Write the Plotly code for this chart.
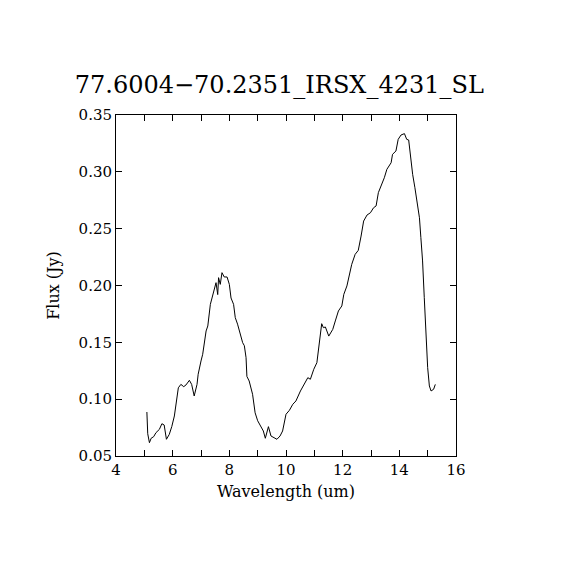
import plotly.graph_objects as go

# spectrum
wavelength = [5.09, 5.12, 5.18, 5.24, 5.33, 5.41, 5.53, 5.62, 5.70, 5.78, 5.88, 5.97, 6.06,
              6.13, 6.20, 6.29, 6.39, 6.47, 6.59, 6.67, 6.76, 6.86, 6.90, 7.00, 7.06,
              7.18, 7.24, 7.33, 7.39, 7.47, 7.53, 7.59, 7.62, 7.68, 7.74, 7.82, 7.92,
              8.00, 8.06, 8.15, 8.21, 8.29, 8.39, 8.47, 8.53, 8.59, 8.62, 8.70, 8.82,
              8.91, 9.00, 9.12, 9.20, 9.27, 9.38, 9.47, 9.59, 9.68, 9.79, 9.88, 10.00,
              10.12, 10.24, 10.35, 10.51, 10.65, 10.77, 10.86, 10.98, 11.09, 11.14,
              11.21, 11.26, 11.32, 11.39, 11.51, 11.65, 11.74, 11.85, 11.97, 12.04,
              12.15, 12.24, 12.32, 12.44, 12.55, 12.65, 12.74, 12.86, 12.98, 13.09,
              13.18, 13.26, 13.38, 13.47, 13.56, 13.71, 13.76, 13.88, 13.96, 14.06,
              14.18, 14.26, 14.33, 14.41, 14.47, 14.55, 14.62, 14.71, 14.76, 14.82,
              14.88, 14.94, 15.00, 15.06, 15.12, 15.21, 15.27]
flux = [0.0887, 0.0696, 0.0617, 0.0656, 0.0670, 0.0705, 0.0734, 0.0784, 0.0773, 0.0647,
        0.0690, 0.0760, 0.0852, 0.1000, 0.1100, 0.1130, 0.1110, 0.1125, 0.1166, 0.1130,
        0.1028, 0.1130, 0.1219, 0.1336, 0.1395, 0.1600, 0.1644, 0.1834, 0.1890, 0.1950,
        0.2025, 0.1920, 0.2069, 0.2010, 0.2113, 0.2075, 0.2075, 0.2010, 0.1890, 0.1834,
        0.1717, 0.1660, 0.1570, 0.1497, 0.1470, 0.1365, 0.1200, 0.1160, 0.1043, 0.0880,
        0.0810, 0.0750, 0.0720, 0.0656, 0.0758, 0.0676, 0.0662, 0.0647, 0.0676, 0.0720,
        0.0867, 0.0902, 0.0955, 0.0984, 0.1072, 0.1130, 0.1189, 0.1175, 0.1263, 0.1321,
        0.1424, 0.1570, 0.1664, 0.1629, 0.1635, 0.1555, 0.1614, 0.1688, 0.1776, 0.1820,
        0.1922, 0.1996, 0.2099, 0.2186, 0.2274, 0.2309, 0.2435, 0.2567, 0.2620, 0.2640,
        0.2684, 0.2700, 0.2817, 0.2890, 0.2948, 0.3022, 0.3080, 0.3154, 0.3183, 0.3286,
        0.3324, 0.3336, 0.3286, 0.3280, 0.3095, 0.2978, 0.2860, 0.2743, 0.2596, 0.2421,
        0.2216, 0.1893, 0.1600, 0.1277, 0.1116, 0.1072, 0.1087, 0.1130]

fig = go.Figure(go.Scatter(x=wavelength, y=flux, mode="lines",
                           line=dict(color="black", width=1)))

tick_font = dict(family="DejaVu Serif", size=15, color="black")
label_font = dict(family="DejaVu Serif", size=16, color="black")

fig.update_layout(
    width=570, height=570,
    margin=dict(l=108, r=122, t=107, b=122),
    paper_bgcolor="white", plot_bgcolor="white",
    showlegend=False,
    title=dict(text="77.6004\u221270.2351_IRSX_4231_SL", x=0.476, xanchor="center",
               y=0.865, yanchor="middle",
               font=dict(family="DejaVu Serif", size=24, color="black")),
    xaxis=dict(range=[4, 16], dtick=2, ticks="inside", ticklen=6, tickcolor="black",
               minor=dict(dtick=1, ticks="inside", ticklen=6, tickcolor="black"),
               showline=True, linecolor="black", linewidth=1, mirror="ticks",
               showgrid=False, zeroline=False, tickfont=tick_font,
               title=dict(text="Wavelength (um)", font=label_font, standoff=7)),
    yaxis=dict(range=[0.05, 0.35], dtick=0.05, tickformat=".2f", ticks="inside",
               ticklen=6, tickcolor="black",
               showline=True, linecolor="black", linewidth=1, mirror="ticks",
               showgrid=False, zeroline=False, tickfont=tick_font,
               title=dict(text="Flux (Jy)", font=label_font, standoff=14)),
)

fig.write_html("out.html")
